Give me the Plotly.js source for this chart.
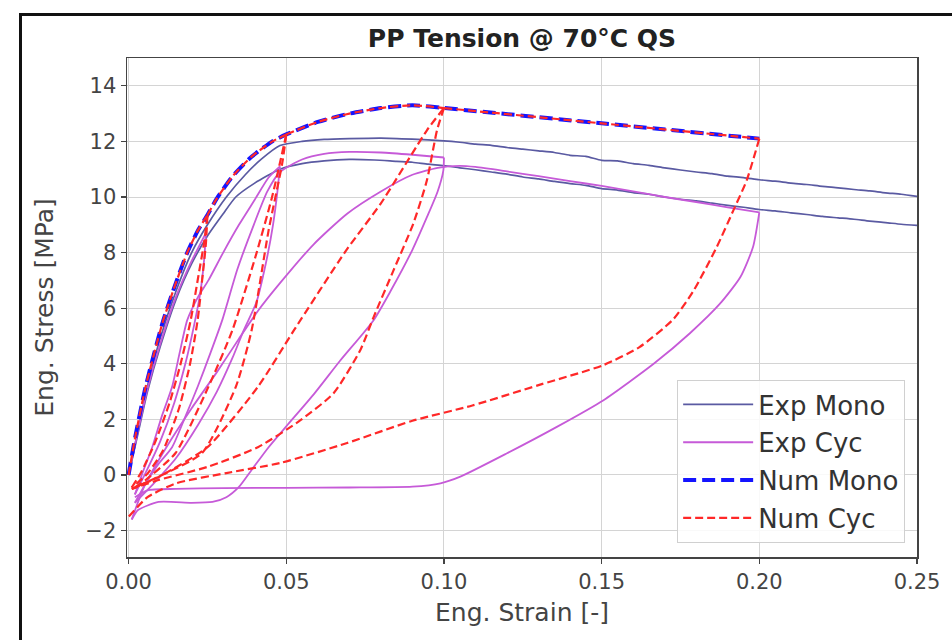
<!DOCTYPE html>
<html>
<head>
<meta charset="utf-8">
<script src="https://cdn.plot.ly/plotly-3.0.1.min.js"></script>
<style>
  html, body { margin: 0; padding: 0; background: #fff; }
  #wrap { position: relative; width: 952px; height: 640px; }
  #chart { width: 952px; height: 640px; }
  #frame { position: absolute; left: 19px; top: 13px; width: 940px; height: 640px;
           border-left: 3px solid #111; border-top: 3px solid #111; pointer-events: none; }
</style>
</head>
<body>
<div id="wrap"><div id="chart"></div><div id="frame"></div></div>
<script>
// ---------------- DATA ----------------
const titleText = "PP Tension @ 70°C QS";
const xTitle = "Eng. Strain [-]";
const yTitle = "Eng. Stress [MPa]";
const xTickVals = [0, 0.05, 0.10, 0.15, 0.20, 0.25];
const yTickVals = [-2, 0, 2, 4, 6, 8, 10, 12, 14];
const seriesNames = ["Exp Mono", "Exp Cyc", "Num Mono", "Num Cyc"];

// Experimental monotonic, specimen A (upper)
const expMonoAStrain = [0, 0.003, 0.006, 0.010, 0.015, 0.020, 0.025, 0.031, 0.037, 0.042, 0.048, 0.055, 0.062, 0.070, 0.080, 0.090, 0.100, 0.105, 0.110, 0.115, 0.120, 0.125, 0.130, 0.135, 0.140, 0.145, 0.150, 0.155, 0.160, 0.165, 0.170, 0.175, 0.180, 0.185, 0.190, 0.195, 0.200, 0.205, 0.210, 0.215, 0.220, 0.225, 0.230, 0.235, 0.240, 0.245, 0.250];
const expMonoAStress = [0, 1.6, 3.2, 4.9, 6.6, 8.0, 9.0, 10.0, 10.8, 11.35, 11.85, 12.0, 12.07, 12.1, 12.12, 12.08, 12.02, 11.97, 11.9, 11.86, 11.78, 11.72, 11.66, 11.6, 11.5, 11.46, 11.32, 11.3, 11.2, 11.14, 11.05, 10.97, 10.9, 10.84, 10.75, 10.7, 10.62, 10.57, 10.5, 10.45, 10.38, 10.33, 10.27, 10.22, 10.15, 10.1, 10.02];
// Experimental monotonic, specimen B (lower)
const expMonoBStrain = [0, 0.003, 0.006, 0.010, 0.015, 0.020, 0.025, 0.030, 0.034, 0.040, 0.048, 0.055, 0.062, 0.070, 0.078, 0.085, 0.090, 0.095, 0.100, 0.105, 0.110, 0.115, 0.120, 0.125, 0.130, 0.135, 0.140, 0.145, 0.150, 0.155, 0.160, 0.165, 0.170, 0.175, 0.180, 0.185, 0.190, 0.195, 0.200, 0.205, 0.210, 0.215, 0.220, 0.225, 0.230, 0.235, 0.240, 0.245, 0.250];
const expMonoBStress = [0, 1.5, 3.0, 4.6, 6.3, 7.6, 8.6, 9.4, 10.0, 10.5, 11.0, 11.2, 11.3, 11.35, 11.33, 11.28, 11.25, 11.18, 11.13, 11.05, 10.98, 10.9, 10.82, 10.72, 10.65, 10.56, 10.48, 10.42, 10.3, 10.25, 10.16, 10.1, 10.0, 9.92, 9.86, 9.78, 9.7, 9.63, 9.55, 9.5, 9.43, 9.37, 9.3, 9.25, 9.2, 9.13, 9.08, 9.02, 8.98];

// Experimental cyclic: loading / unloading branches
const expCycLoad1Strain   = [0, 0.003, 0.006, 0.010, 0.015, 0.020, 0.0245];
const expCycLoad1Stress   = [0, 1.6, 3.1, 4.7, 6.4, 7.7, 8.7];
const expCycUnload1Strain = [0.0245, 0.024, 0.0228, 0.0208, 0.018, 0.0145, 0.010, 0.0055, 0.002];
const expCycUnload1Stress = [8.7, 7.8, 6.6, 5.4, 4.0, 2.6, 1.2, 0.1, -0.7];
const expCycReload1Strain = [0.002, 0.0045, 0.0075, 0.0105, 0.0138, 0.0162, 0.0186, 0.022, 0.0253, 0.030, 0.035, 0.040, 0.0444, 0.048];
const expCycReload1Stress = [-0.7, 0.1, 1.0, 2.1, 3.17, 4.4, 5.57, 6.4, 7.0, 8.0, 9.0, 9.9, 10.7, 11.1];
const expCycUnload2Strain = [0.048, 0.0472, 0.0458, 0.0435, 0.0405, 0.0365, 0.0329, 0.028, 0.022, 0.015, 0.008, 0.002];
const expCycUnload2Stress = [11.1, 10.2, 9.0, 7.6, 6.2, 5.2, 4.2, 3.0, 1.8, 0.6, -0.3, -1.0];
const expCycReload2Strain = [0.002, 0.006, 0.0095, 0.0138, 0.018, 0.022, 0.026, 0.0297, 0.0345, 0.0397, 0.044, 0.048, 0.055, 0.062, 0.070, 0.080, 0.090, 0.100];
const expCycReload2Stress = [-1.0, -0.2, 0.4, 1.0, 2.1, 3.2, 4.4, 5.57, 7.4, 9.0, 10.2, 10.9, 11.35, 11.55, 11.62, 11.6, 11.52, 11.42];
const expCycUnload3Strain = [0.100, 0.0998, 0.098, 0.0947, 0.090, 0.083, 0.0777, 0.067, 0.0587, 0.050, 0.0444, 0.039, 0.035, 0.031, 0.0266, 0.020, 0.0095, 0.003, 0.001];
const expCycUnload3Stress = [11.42, 10.95, 10.2, 9.3, 8.1, 6.6, 5.57, 4.1, 2.9, 1.75, 1.0, 0.18, -0.43, -0.8, -0.97, -1.0, -0.97, -1.26, -1.6];
const expCycReload3Strain = [0.001, 0.005, 0.012, 0.020, 0.028, 0.035, 0.041, 0.048, 0.0587, 0.0693, 0.080, 0.090, 0.098, 0.105, 0.110, 0.120, 0.130, 0.140, 0.150, 0.160, 0.170, 0.180, 0.190, 0.200];
const expCycReload3Stress = [-1.6, -0.4, 1.0, 2.4, 3.7, 4.9, 5.9, 6.9, 8.3, 9.4, 10.2, 10.8, 11.05, 11.12, 11.08, 10.92, 10.75, 10.57, 10.4, 10.2, 10.0, 9.82, 9.63, 9.45];
const expCycUnload4Strain = [0.200, 0.198, 0.194, 0.1876, 0.178, 0.1665, 0.1506, 0.1358, 0.120, 0.1052, 0.0989, 0.090, 0.070, 0.050, 0.030, 0.015, 0.006, 0.002];
const expCycUnload4Stress = [9.45, 8.2, 7.12, 6.17, 5.1, 4.0, 2.69, 1.73, 0.78, -0.06, -0.3, -0.42, -0.45, -0.46, -0.47, -0.5, -0.55, -0.8];

// Numerical monotonic
const numMonoStrain = [0, 0.002, 0.0054, 0.0107, 0.0145, 0.0186, 0.022, 0.025, 0.028, 0.033, 0.039, 0.0456, 0.050, 0.060, 0.070, 0.080, 0.090, 0.100, 0.150, 0.200];
const numMonoStress = [0, 1.3, 3.17, 5.45, 6.75, 8.0, 8.8, 9.35, 9.95, 10.75, 11.45, 12.0, 12.25, 12.7, 13.0, 13.2, 13.3, 13.2, 12.65, 12.1];

// Numerical cyclic: loading / unloading branches
const numCycLoad1Strain   = [0, 0.002, 0.0054, 0.0107, 0.0145, 0.0186, 0.022, 0.025];
const numCycLoad1Stress   = [0, 1.3, 3.17, 5.45, 6.75, 8.0, 8.8, 9.35];
const numCycUnload1Strain = [0.025, 0.0245, 0.0235, 0.0219, 0.0195, 0.016, 0.011, 0.006, 0.001];
const numCycUnload1Stress = [9.35, 8.3, 7.2, 5.57, 4.0, 2.4, 0.9, 0.05, -0.45];
const numCycReload1Strain = [0.001, 0.004, 0.0085, 0.013, 0.0165, 0.0197, 0.0222, 0.024, 0.025];
const numCycReload1Stress = [-0.45, 0.1, 1.2, 2.6, 4.0, 5.57, 7.2, 8.4, 9.35];
const numCycEnv1Strain    = [0.025, 0.028, 0.033, 0.039, 0.0456, 0.050];
const numCycEnv1Stress    = [9.35, 9.95, 10.75, 11.45, 12.0, 12.25];
const numCycUnload2Strain = [0.050, 0.0487, 0.0444, 0.039, 0.034, 0.0233, 0.0095, 0.002];
const numCycUnload2Stress = [12.25, 11.2, 8.8, 5.2, 3.17, 0.79, -0.06, -0.45];
const numCycReload2Strain = [0.002, 0.0054, 0.0149, 0.0253, 0.0329, 0.0402, 0.0455, 0.050];
const numCycReload2Stress = [-0.45, -0.18, 0.79, 3.17, 5.2, 7.84, 10.0, 12.25];
const numCycEnv2Strain    = [0.050, 0.060, 0.070, 0.080, 0.090, 0.100];
const numCycEnv2Stress    = [12.25, 12.7, 13.0, 13.2, 13.3, 13.2];
const numCycUnload3Strain = [0.100, 0.0978, 0.0946, 0.0903, 0.084, 0.0777, 0.0735, 0.065, 0.0545, 0.041, 0.025, 0.0095, 0.001];
const numCycUnload3Stress = [13.2, 12.4, 10.6, 9.05, 7.36, 5.68, 4.5, 2.94, 1.97, 1.0, 0.29, -0.18, -0.5];
const numCycReload3Strain = [0.001, 0.0095, 0.025, 0.041, 0.0524, 0.069, 0.080, 0.0946, 0.100];
const numCycReload3Stress = [-0.5, -0.07, 1.0, 3.17, 5.2, 8.08, 9.77, 12.4, 13.2];
const numCycEnv3Strain    = [0.100, 0.150, 0.200];
const numCycEnv3Stress    = [13.2, 12.65, 12.1];
const numCycUnload4Strain = [0.200, 0.196, 0.1917, 0.1865, 0.179, 0.1727, 0.162, 0.1505, 0.1305, 0.109, 0.090, 0.0693, 0.048, 0.031, 0.015, 0.006, 0.0];
const numCycUnload4Stress = [12.1, 10.6, 9.5, 8.2, 6.6, 5.6, 4.6, 3.95, 3.25, 2.5, 1.95, 1.15, 0.43, 0.07, -0.3, -0.8, -1.5];

// ---------------- CHART ----------------
const FONT = "DejaVu Sans, Arial, sans-serif";
const cExpMono = "#5a5aa2";
const cExpCyc = "#c65ad8";
const cNumMono = "#1414ff";
const cNumCyc = "#ff2828";

function series(segments, name, group, line) {
  return segments.map(function (s, i) {
    return {
      x: s[0], y: s[1], name: name, legendgroup: group, showlegend: i === 0,
      mode: "lines", line: Object.assign({ shape: "spline", smoothing: 0.6 }, line), hoverinfo: "skip"
    };
  });
}

const traces = [].concat(
  series([[expMonoAStrain, expMonoAStress], [expMonoBStrain, expMonoBStress]],
         seriesNames[0], "g1", { color: cExpMono, width: 1.7 }),
  series([[expCycLoad1Strain, expCycLoad1Stress], [expCycUnload1Strain, expCycUnload1Stress],
          [expCycReload1Strain, expCycReload1Stress], [expCycUnload2Strain, expCycUnload2Stress],
          [expCycReload2Strain, expCycReload2Stress], [expCycUnload3Strain, expCycUnload3Stress],
          [expCycReload3Strain, expCycReload3Stress], [expCycUnload4Strain, expCycUnload4Stress]],
         seriesNames[1], "g2", { color: cExpCyc, width: 1.8 }),
  series([[numMonoStrain, numMonoStress]],
         seriesNames[2], "g3", { color: cNumMono, width: 4, dash: "13px,6px" }),
  series([[numCycLoad1Strain, numCycLoad1Stress], [numCycUnload1Strain, numCycUnload1Stress],
          [numCycReload1Strain, numCycReload1Stress], [numCycEnv1Strain, numCycEnv1Stress],
          [numCycUnload2Strain, numCycUnload2Stress], [numCycReload2Strain, numCycReload2Stress],
          [numCycEnv2Strain, numCycEnv2Stress], [numCycUnload3Strain, numCycUnload3Stress],
          [numCycReload3Strain, numCycReload3Stress], [numCycEnv3Strain, numCycEnv3Stress],
          [numCycUnload4Strain, numCycUnload4Stress]],
         seriesNames[3], "g4", { color: cNumCyc, width: 2.2, dash: "8px,4px" })
);

const axisCommon = {
  showline: true, mirror: true, linecolor: "#444", linewidth: 1.5,
  showgrid: true, gridcolor: "#d4d4d4", gridwidth: 1,
  zeroline: false, ticks: "outside", ticklen: 5, tickwidth: 1.3, tickcolor: "#444",
  tickfont: { family: FONT, size: 21, color: "#444" }
};

const layout = {
  width: 952, height: 640,
  margin: { l: 127, r: 35, t: 58, b: 83 },
  paper_bgcolor: "#fff", plot_bgcolor: "#fff",
  font: { family: FONT, color: "#333" },
  title: { text: "<b>" + titleText + "</b>", font: { family: FONT, size: 25, color: "#222" },
           x: 0.5, xref: "paper", y: 1 - 38 / 640, yref: "container", yanchor: "middle" },
  xaxis: Object.assign({}, axisCommon, {
    range: [-0.0005, 0.25], tickvals: xTickVals, tickformat: ".2f",
    title: { text: xTitle, font: { family: FONT, size: 25, color: "#444" }, standoff: 11 }
  }),
  yaxis: Object.assign({}, axisCommon, {
    range: [-2.95, 15.0], tickvals: yTickVals,
    title: { text: yTitle, font: { family: FONT, size: 25, color: "#444" }, standoff: 24 }
  }),
  legend: {
    x: 0.985, xanchor: "right", y: 0.028, yanchor: "bottom",
    bgcolor: "rgba(255,255,255,0.85)", bordercolor: "#d0d0d0", borderwidth: 1,
    font: { family: FONT, size: 26, color: "#333" },
    traceorder: "grouped", tracegroupgap: 1, itemwidth: 70
  },
  showlegend: true
};

Plotly.newPlot("chart", traces, layout, { staticPlot: true, displayModeBar: false });
</script>
</body>
</html>
